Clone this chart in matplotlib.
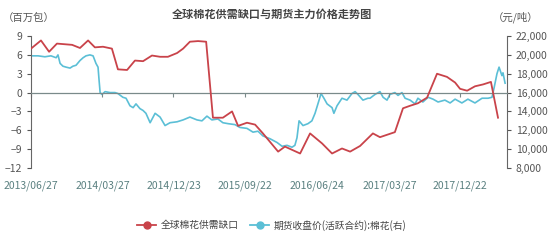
import numpy as np
import pandas as pd
import matplotlib
matplotlib.use('Agg')
import matplotlib.pyplot as plt
from matplotlib.ticker import FuncFormatter

plt.rcParams['font.family'] = ['Noto Sans CJK SC', 'DejaVu Sans']

start = pd.Timestamp('2013-06-27')

# global supply/demand gap (million bales), days since 2013-06-27
gap_days = [0, 38, 69, 99, 157, 187, 218, 244, 275, 309, 332, 367, 397, 428, 462,
            493, 523, 558, 581, 607, 638, 669, 695, 733, 768, 791, 825, 856, 886,
            944, 970, 1028, 1066, 1112, 1150, 1188, 1219, 1257, 1306, 1333, 1390,
            1421, 1448, 1478, 1513, 1551, 1589, 1620, 1639, 1666, 1696, 1727, 1757, 1784]
gap_vals = [7.0, 8.3, 6.5, 7.8, 7.6, 7.1, 8.3, 7.2, 7.3, 7.0, 3.7, 3.6, 5.1, 5.0, 5.9,
            5.7, 5.7, 6.3, 7.0, 8.1, 8.2, 8.1, -4.0, -4.0, -3.0, -5.3, -4.8, -5.1, -6.5,
            -9.4, -8.6, -9.7, -6.5, -8.1, -9.7, -8.9, -9.4, -8.5, -6.5, -7.1, -6.3,
            -2.5, -2.1, -1.7, -0.8, 3.0, 2.5, 1.6, 0.6, 0.3, 1.0, 1.3, 1.7, -4.0]

# futures close price, cotton (yuan/ton)
price_days = [0, 27, 53, 76, 96, 103, 111, 122, 134, 149, 160, 172, 187, 199, 210,
              225, 237, 244, 248, 256, 260, 264, 271, 283, 302, 321, 332, 351, 363,
              378, 390, 401, 416, 428, 439, 455, 474, 493, 512, 531, 558, 581, 607,
              634, 653, 672, 691, 714, 733, 753, 779, 798, 825, 848, 867, 886, 913,
              940, 959, 978, 997, 1008, 1016, 1024, 1039, 1058, 1073, 1085, 1096,
              1108, 1119, 1131, 1150, 1157, 1169, 1188, 1207, 1226, 1238, 1249, 1268,
              1287, 1295, 1314, 1333, 1345, 1360, 1371, 1390, 1402, 1417, 1429, 1448,
              1467, 1478, 1497, 1517, 1536, 1555, 1581, 1601, 1620, 1646, 1669, 1696,
              1723, 1746, 1761, 1769, 1780, 1788, 1799, 1803, 1811]
price_vals = [19900, 19900, 19800, 19900, 19700, 20000, 19100, 18800, 18700, 18600,
              18800, 18900, 19400, 19700, 19900, 20000, 19900, 19400, 19100, 18700,
              17300, 16000, 15800, 16100, 16000, 16000, 15900, 15500, 15400, 14600,
              14400, 14800, 14300, 14100, 13800, 12800, 13800, 13400, 12500, 12800,
              12900, 13100, 13400, 13100, 13000, 13500, 13100, 13200, 12800, 12700,
              12600, 12300, 12200, 11800, 11900, 11400, 11100, 10700, 10300, 10400,
              10200, 10400, 11200, 13000, 12500, 12700, 13000, 13800, 14800, 15900,
              15400, 14800, 14400, 13800, 14600, 15400, 15200, 15900, 16100, 15800,
              15200, 15400, 15400, 15800, 16100, 15500, 15200, 15800, 16000, 15700,
              16000, 15400, 15200, 14800, 15400, 15000, 15500, 15300, 15000, 15200,
              14900, 15300, 14900, 15300, 14900, 15400, 15400, 15500, 16500, 18000,
              18700, 17800, 18100, 17000]

tick_labels = ['2013/06/27', '2014/03/27', '2014/12/23', '2015/09/22',
               '2016/06/24', '2017/03/27', '2017/12/22']

gap_x = start + pd.to_timedelta(gap_days, unit='D')
price_x = start + pd.to_timedelta(price_days, unit='D')
tick_x = pd.to_datetime(tick_labels, format='%Y/%m/%d')

red = '#c9434a'
blue = '#5bbfd6'
grey = '#666666'

fig = plt.figure(figsize=(5.54, 2.42), dpi=100)
ax = fig.add_axes([0.056, 0.306, 0.859, 0.545])
ax2 = ax.twinx()

ax.plot(gap_x, gap_vals, color=red, lw=1.3, zorder=3)
ax2.plot(price_x, price_vals, color=blue, lw=1.2, zorder=2)
ax.set_zorder(ax2.get_zorder() + 1)
ax.patch.set_visible(False)

ax.set_ylim(-12, 9)
ax.set_yticks(np.arange(-12, 10, 3))
ax2.set_ylim(8000, 22000)
ax2.set_yticks(np.arange(8000, 22001, 2000))
ax2.yaxis.set_major_formatter(FuncFormatter(lambda v, p: f'{int(v):,}'))

ax.set_xlim(start, start + pd.Timedelta(days=1818))
ax.set_xticks(tick_x)
ax.set_xticklabels(tick_labels)

for a in (ax, ax2):
    a.spines['top'].set_visible(False)
ax2.spines['bottom'].set_visible(False)
ax2.spines['left'].set_visible(False)
ax.spines['right'].set_visible(False)
ax.spines['left'].set_color(grey)
ax2.spines['right'].set_color(grey)
ax.spines['bottom'].set_position(('data', 0))
ax.spines['bottom'].set_color('#7a8a8a')
ax.spines['bottom'].set_linewidth(0.9)

ax.tick_params(axis='y', colors='#555555', labelsize=7.5, length=3, width=0.8)
ax2.tick_params(axis='y', colors='#555555', labelsize=7.5, length=3, width=0.8)
ax.tick_params(axis='x', colors='#7a8a8a', labelcolor='#5a8080', labelsize=7.5,
               length=3, width=0.8, pad=60)

fig.text(0.49, 0.94, '全球棉花供需缺口与期货主力价格走势图', ha='center', va='center',
         fontsize=8, fontweight='bold', color='#444444')
fig.text(0.005, 0.925, '（百万包）', ha='left', va='center', fontsize=7.5, color='#555555')
fig.text(0.89, 0.93, '（元/吨）', ha='left', va='center', fontsize=7.5, color='#555555')

h1, = ax.plot([], [], color=red, lw=1.3, marker='o', ms=5)
h2, = ax.plot([], [], color=blue, lw=1.3, marker='o', ms=5)
fig.legend([h1, h2], ['全球棉花供需缺口', '期货收盘价(活跃合约):棉花(右)'],
           loc='center', bbox_to_anchor=(0.49, 0.07), ncol=2, frameon=False,
           fontsize=7, handlelength=2.0, columnspacing=1.2, handletextpad=0.4,
           labelcolor='#444444')

fig.savefig('out.png', dpi=100)
